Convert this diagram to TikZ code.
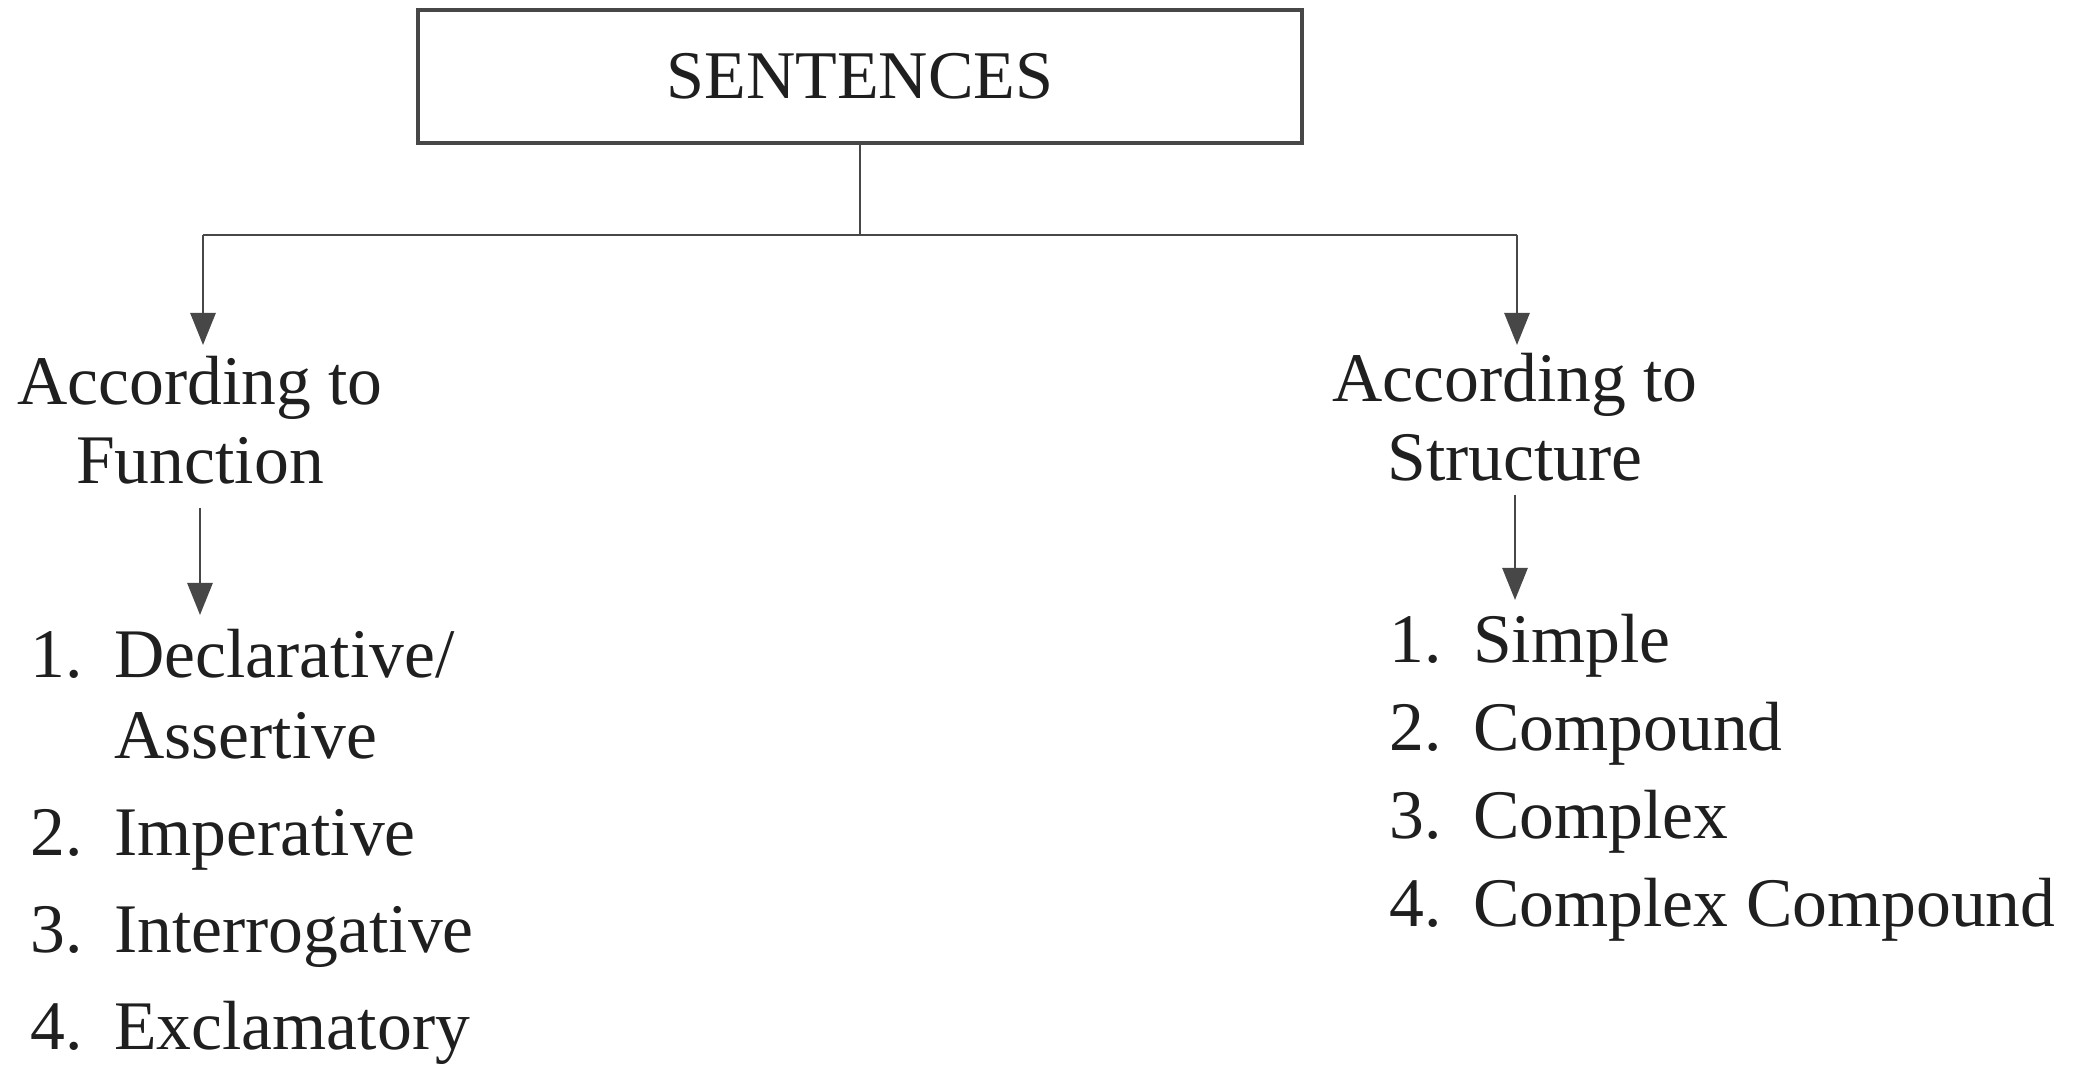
\documentclass[tikz,border=0pt]{standalone}
\usepackage{fontspec}
\setmainfont{Liberation Serif}
\usetikzlibrary{arrows.meta}

\begin{document}
\begin{tikzpicture}[x=0.01cm, y=-0.01cm,
	line/.style={draw=black!72, line width=0.8pt},
	arr/.style={line, -{Triangle[width=0.25cm,length=0.32cm]}},
	txt/.style={font=\fontsize{19.8}{23}\selectfont, text=black!88, inner sep=0pt},
	head/.style={txt, align=center, font=\fontsize{19.8}{22.5}\selectfont},
	rootbox/.style={draw=black!72, line width=1.1pt, minimum width=8.84cm,
		minimum height=1.33cm, text=black!88, font=\fontsize{19.4}{23}\selectfont}]
		\useasboundingbox (0,0) rectangle (2076,1074);
		\fill[white] (0,0) rectangle (2076,1074);

		%% Root box
		\node[rootbox] (sent) at (860,76.5) {SENTENCES};

		%% Branching lines
		\coordinate (split) at (860,235);
		\coordinate (lsplit) at (203,235);
		\coordinate (rsplit) at (1517,235);
		\draw[line] (sent.south) -- (split);
		\draw[line] (lsplit) -- (rsplit);

		% Headings
		\node[head, anchor=north] (func) at (200,355) {According to\\Function};
		\node[head, anchor=north] (struc) at (1515,352) {According to\\Structure};
		\draw[arr, shorten >=0.1cm] (lsplit) -- (func.north -| lsplit);
		\draw[arr, shorten >=0.07cm] (rsplit) -- (struc.north -| rsplit);

		% Lists
		\node[txt, anchor=north west] (fitems) at (30,620) {%
			\begin{tabular}{@{}r@{\hspace{0.45em}}l@{}}
				1. & Declarative/\\
				   & Assertive\\[4.6pt]
				2. & Imperative\\[4.6pt]
				3. & Interrogative\\[4.6pt]
				4. & Exclamatory
			\end{tabular}};
		\node[txt, anchor=north west] (sitems) at (1389,605) {%
			\begin{tabular}{@{}r@{\hspace{0.45em}}l@{}}
				1. & Simple\\[2pt]
				2. & Compound\\[2pt]
				3. & Complex\\[2pt]
				4. & Complex Compound
			\end{tabular}};
		\draw[arr, shorten <=0.23cm, shorten >=0.05cm] (func.south) -- (func.south |- fitems.north);
		\draw[arr, shorten <=0.13cm, shorten >=0.05cm] (struc.south) -- (struc.south |- sitems.north);
	\end{tikzpicture}
\end{document}
